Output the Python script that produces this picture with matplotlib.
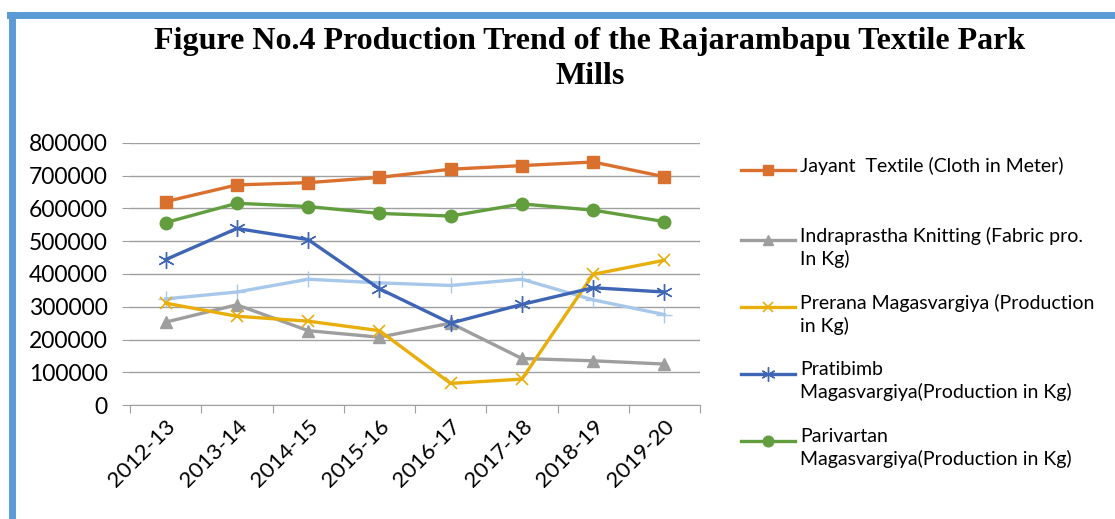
import matplotlib.pyplot as plt
from matplotlib.lines import Line2D
import numpy as np

years = ["2012-13", "2013-14", "2014-15", "2015-16", "2016-17", "2017-18", "2018-19", "2019-20"]

jayant = [621000, 672000, 679000, 695000, 720000, 731000, 742000, 697000]
indraprastha = [253000, 306000, 227000, 207000, 250000, 142000, 135000, 125000]
prerana = [311000, 271000, 256000, 227000, 66000, 79000, 399000, 442000]
pratibimb = [444000, 539000, 505000, 355000, 250000, 307000, 358000, 345000]
parivartan = [557000, 616000, 606000, 585000, 577000, 614000, 595000, 560000]
unnamed = [324000, 345000, 384000, 373000, 365000, 384000, 321000, 276000]

labels = [
    "Jayant  Textile (Cloth in Meter)",
    "Indraprastha Knitting (Fabric pro.\nIn Kg)",
    "Prerana Magasvargiya (Production\nin Kg)",
    "Pratibimb\nMagasvargiya(Production in Kg)",
    "Parivartan\nMagasvargiya(Production in Kg)",
]

font = "Lato"
fig = plt.figure(figsize=(11.15, 5.19), dpi=100)
ax = fig.add_axes([130 / 1115, 1 - 405 / 519, 570 / 1115, 262 / 519])

x = np.arange(len(years))
styles = [
    (jayant, "#D9702E", "s", 9, 1.0),
    (indraprastha, "#9E9E9E", "^", 9, 1.0),
    (prerana, "#E8AE0C", "x", 9, 1.2),
    (pratibimb, "#3F66B5", (6, 2, 0), 12, 1.0),
    (parivartan, "#629E3E", "o", 9, 1.0),
]
ax.plot(x, unnamed, color="#A7C8EA", lw=2.4, marker="+", ms=12, mew=1.0, zorder=2)
for vals, c, m, ms, mew in styles:
    ax.plot(x, vals, color=c, lw=2.4, marker=m, ms=ms, mew=mew, mec=c, mfc=c, zorder=3)

ax.set_xlim(-0.5, 7.5)
ax.set_ylim(0, 800000)
ax.set_yticks(np.arange(0, 800001, 100000))
ax.set_yticklabels([str(v) for v in range(0, 800001, 100000)], fontsize=16.5, family=font)
ax.set_xticks(np.arange(-0.5, 7.6, 1))
ax.set_xticklabels([])
ax.set_xticks(x, minor=True)
ax.set_xticklabels(years, minor=True, rotation=45, ha="right", va="top", fontsize=16, family=font,
                   rotation_mode="anchor")
ax.tick_params(axis="x", which="minor", length=0, pad=8)
ax.tick_params(axis="x", which="major", length=6, color="#A0A0A0")
ax.tick_params(axis="y", length=6, color="#A0A0A0", pad=10)
ax.grid(axis="y", color="#A0A0A0", lw=1)
ax.set_axisbelow(True)
for s in ["top", "right", "left"]:
    ax.spines[s].set_visible(False)
ax.spines["bottom"].set_color("#A0A0A0")

# title, two lines
fig.text(590 / 1115, 1 - 42 / 519, "Figure No.4 Production Trend of the Rajarambapu Textile Park",
         ha="center", va="center", fontsize=23, fontweight="bold", family="Liberation Serif")
fig.text(590 / 1115, 1 - 77 / 519, "Mills",
         ha="center", va="center", fontsize=23, fontweight="bold", family="Liberation Serif")

# legend
leg_y = [170, 240, 307, 374, 441]
for (vals, c, m, ms, mew), lab, yy in zip(styles, labels, leg_y):
    yf = 1 - yy / 519
    fig.add_artist(Line2D([741 / 1115, 795 / 1115], [yf, yf], color=c, lw=2.4, transform=fig.transFigure))
    fig.add_artist(Line2D([768 / 1115], [yf], color=c, marker=m, ms=ms * 0.85, mew=mew, mec=c, mfc=c,
                          transform=fig.transFigure))
    fig.text(800 / 1115, yf + 13 / 519, lab, ha="left", va="top", fontsize=14, family=font,
             linespacing=1.35)

# frame border
fig.add_artist(Line2D([10 / 1115, 1], [1 - 15 / 519, 1 - 15 / 519], color="#5B9BD5", lw=5,
                      transform=fig.transFigure))
fig.add_artist(Line2D([12 / 1115, 12 / 1115], [0, 1 - 15 / 519], color="#5B9BD5", lw=5,
                      transform=fig.transFigure))

fig.savefig("out.png", dpi=100)
